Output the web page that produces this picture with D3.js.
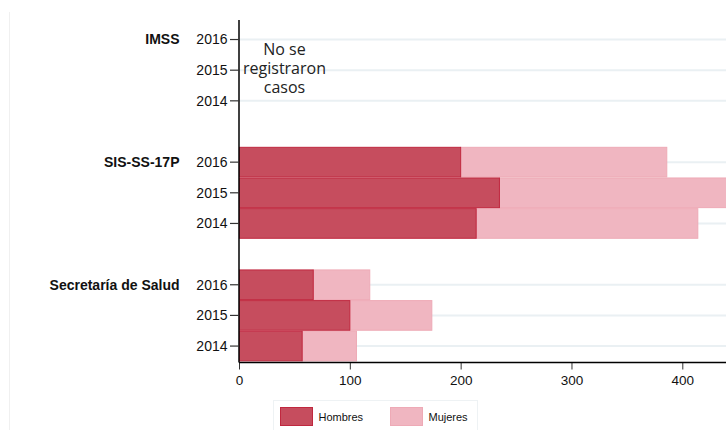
<!DOCTYPE html>
<html><head><meta charset="utf-8">
<script src="https://cdn.jsdelivr.net/npm/d3@7"></script>
<style>body{margin:0;background:#fff}svg{display:block}</style>
</head><body>
<script>
const groups = ["IMSS", "SIS-SS-17P", "Secretaría de Salud"];
const years = ["2016", "2015", "2014"];
const hombres = {
  "IMSS": [0, 0, 0],
  "SIS-SS-17P": [200, 235, 214],
  "Secretaría de Salud": [67, 100, 57]
};
const mujeres = {
  "IMSS": [0, 0, 0],
  "SIS-SS-17P": [186, 225, 200],
  "Secretaría de Salud": [51, 74, 49]
};
const xTicks = [0, 100, 200, 300, 400];
const seriesNames = ["Hombres", "Mujeres"];
const noDataNote = ["No se", "registraron", "casos"];

const W = 726, H = 430;
const svg = d3.select("body").append("svg").attr("width", W).attr("height", H);
const font = "'Liberation Sans', Arial, sans-serif";

svg.append("line").attr("x1", 9.5).attr("x2", 9.5).attr("y1", 12).attr("y2", H)
  .attr("stroke", "#f0f0f0").attr("stroke-width", 1);

const x0 = 239, xRight = 726;
const x = d3.scaleLinear().domain([0, 400]).range([x0, 682.3]);

const slots = [];
groups.forEach((g, gi) => {
  years.forEach(y => slots.push(g + "|" + y));
  if (gi < groups.length - 1) slots.push("gap" + gi);
});
const y = d3.scaleBand().domain(slots).range([24.2, 361.4]).paddingInner(0).paddingOuter(0);

const rows = [];
groups.forEach(g => years.forEach((yr, i) => rows.push({g, yr, key: g + "|" + yr, h: hombres[g][i], m: mujeres[g][i]})));

svg.append("clipPath").attr("id", "clip").append("rect")
  .attr("x", x0).attr("y", 0).attr("width", xRight - x0).attr("height", H);

svg.append("g").selectAll("line").data(rows).join("line")
  .attr("x1", x0).attr("x2", xRight)
  .attr("y1", d => y(d.key) + y.bandwidth() / 2).attr("y2", d => y(d.key) + y.bandwidth() / 2)
  .attr("stroke", "#eaf0f3").attr("stroke-width", 2);

const bars = svg.append("g").attr("clip-path", "url(#clip)");
bars.selectAll("rect.m").data(rows.filter(d => d.m > 0)).join("rect").attr("class", "m")
  .attr("x", d => x(d.h)).attr("width", d => x(d.h + d.m) - x(d.h))
  .attr("y", d => y(d.key) + 0.5).attr("height", y.bandwidth() - 1)
  .attr("fill", "#f0b6c1").attr("stroke", "#eeaab6").attr("stroke-width", 1);
bars.selectAll("rect.h").data(rows.filter(d => d.h > 0)).join("rect").attr("class", "h")
  .attr("x", d => x(0) + 0.5).attr("width", d => x(d.h) - x(0) - 0.5)
  .attr("y", d => y(d.key) + 0.5).attr("height", y.bandwidth() - 1)
  .attr("fill", "#c64d5e").attr("stroke", "#c0283f").attr("stroke-width", 1);

const yAxisG = svg.append("g").attr("transform", `translate(${x0},0)`);
yAxisG.append("line").attr("x1", 0).attr("x2", 0).attr("y1", 20).attr("y2", 362.5)
  .attr("stroke", "#000").attr("stroke-width", 1.5);
const yt = yAxisG.selectAll("g.t").data(rows).join("g").attr("class", "t")
  .attr("transform", d => `translate(0,${y(d.key) + y.bandwidth() / 2})`);
yt.append("line").attr("x1", -9).attr("x2", 0).attr("stroke", "#333").attr("stroke-width", 1.2);
yt.append("text").attr("x", -11.5).attr("dy", "0.35em").attr("text-anchor", "end")
  .attr("font-family", font).attr("font-size", 14).attr("fill", "#111").text(d => d.yr);

svg.append("g").selectAll("text").data(groups).join("text")
  .attr("x", 179.5).attr("y", g => y(g + "|" + years[0]) + y.bandwidth() / 2).attr("dy", "0.35em")
  .attr("text-anchor", "end").attr("font-family", font).attr("font-weight", "bold")
  .attr("font-size", 14).attr("fill", "#111").text(g => g);

const xAxis = d3.axisBottom(x).tickValues(xTicks).tickSize(7).tickPadding(6).tickFormat(d3.format("d"));
const xg = svg.append("g").attr("transform", "translate(0,362.5)").call(xAxis);
xg.select(".domain").remove();
xg.append("line").attr("x1", x0).attr("x2", xRight).attr("stroke", "#000").attr("stroke-width", 1.5);
xg.selectAll(".tick line").attr("stroke", "#333");
xg.selectAll(".tick text").attr("font-family", font).attr("font-size", 13.5).attr("fill", "#111");

svg.append("g").selectAll("text").data(noDataNote).join("text")
  .attr("x", 284.5).attr("y", (d, i) => 49 + i * 19.4).attr("dy", "0.35em")
  .attr("text-anchor", "middle").attr("font-family", "'Open Sans', 'Noto Sans', sans-serif")
  .attr("font-size", 16).attr("fill", "#222").text(d => d);

const lg = svg.append("g");
lg.append("rect").attr("x", 273.5).attr("y", 400.5).attr("width", 204).attr("height", 40)
  .attr("fill", "#fff").attr("stroke", "#eef2f4");
const legColors = [["#c64d5e", "#c0283f"], ["#f0b6c1", "#eeaab6"]];
seriesNames.forEach((s, i) => {
  const lx = 280.5 + i * 110;
  lg.append("rect").attr("x", lx).attr("y", 407.5).attr("width", 32).attr("height", 18)
    .attr("fill", legColors[i][0]).attr("stroke", legColors[i][1]);
  lg.append("text").attr("x", lx + 38).attr("y", 417).attr("dy", "0.35em")
    .attr("font-family", font).attr("font-size", 11).attr("fill", "#111").text(s);
});
</script>
</body></html>
